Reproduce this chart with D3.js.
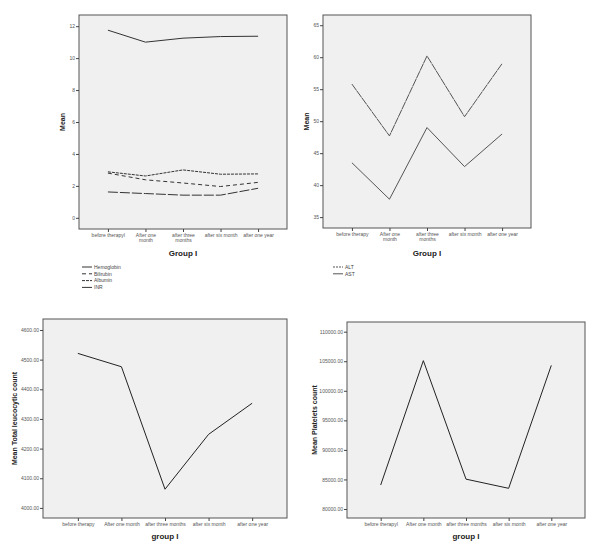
<!DOCTYPE html>
<html>
<head>
<meta charset="utf-8">
<script src="https://cdn.jsdelivr.net/npm/d3@7"></script>
<style>
  body { margin: 0; background: #fff; }
  svg { display: block; font-family: "Liberation Sans", Arial, sans-serif; }
  .axis path { display: none; }
  .axis line { stroke: #444; }
  .axis text { fill: #555; font-size: 5px; }
  .title { font-weight: bold; fill: #222; }
</style>
</head>
<body>
<svg id="chart" width="600" height="555"></svg>
<script>
// categories
const groupA = ['before therapyI', 'After one\nmonth', 'after three\nmonths', 'after six month', 'after one year'];
const groupB = ['before therapy', 'After one\nmonth', 'after three\nmonths', 'after six month', 'after one year'];
const groupC = ['before therapy', 'After one month', 'after three months', 'after six month', 'after one year'];
const groupD = ['before therapyI', 'After one month', 'after three months', 'after six month', 'after one year'];

// series values
const hemoglobin = [11.75, 11.0, 11.25, 11.35, 11.37];
const bilirubin = [2.8, 2.38, 2.18, 1.96, 2.22];
const albumin = [2.88, 2.62, 3.0, 2.73, 2.75];
const inr = [1.62, 1.52, 1.42, 1.42, 1.85];
const alt = [55.8, 47.7, 60.2, 50.7, 59.0];
const ast = [43.5, 37.8, 49.0, 42.9, 48.0];
const leucocytes = [4521, 4476, 4063, 4248, 4353];
const platelets = [84060, 105100, 85050, 83500, 104300];

// tick labels
const labTicks = [0, 2, 4, 6, 8, 10, 12];
const enzymeTicks = [35, 40, 45, 50, 55, 60, 65];
const wbcTicks = [4000, 4100, 4200, 4300, 4400, 4500, 4600];
const plateletTicks = [80000, 85000, 90000, 95000, 100000, 105000, 110000];

const svg = d3.select('#chart');

function drawPanel(opt) {
  const g = svg.append('g');
  const f = opt.frame;

  const x = d3.scalePoint().domain(opt.categories).range([f.left, f.right]).padding(opt.padding);
  const y = d3.scaleLinear().domain(opt.yDomain).range([f.bottom, f.top]);

  g.append('rect')
    .attr('x', f.left)
    .attr('y', f.top)
    .attr('width', f.right - f.left)
    .attr('height', f.bottom - f.top)
    .attr('fill', '#f0f0f0')
    .attr('stroke', '#555')
    .attr('stroke-width', 1);

  g.append('g')
    .attr('class', 'axis')
    .attr('transform', `translate(${f.left}, 0)`)
    .call(d3.axisLeft(y).tickValues(opt.ticks).tickSize(3).tickPadding(1).tickFormat(opt.tickFormat));

  const xAxis = g.append('g')
    .attr('class', 'axis')
    .attr('transform', `translate(0, ${f.bottom})`)
    .call(d3.axisBottom(x).tickSize(3).tickPadding(1));

  // split two-line category labels
  xAxis.selectAll('text').each(function (d) {
    const t = d3.select(this);
    t.text(null);
    d.split('\n').forEach((part, i) => {
      t.append('tspan').attr('x', 0).attr('dy', i === 0 ? '0.71em' : '1.05em').text(part);
    });
  });

  const line = d3.line()
    .x((d, i) => x(opt.categories[i]))
    .y((d) => y(d));

  opt.series.forEach((s) => {
    g.append('path')
      .datum(s.values)
      .attr('fill', 'none')
      .attr('stroke', s.color || '#333')
      .attr('stroke-width', 1)
      .attr('stroke-dasharray', s.dash || null)
      .attr('d', line);
  });

  g.append('text')
    .attr('class', 'title')
    .attr('x', (f.left + f.right) / 2)
    .attr('y', opt.xTitleY)
    .attr('text-anchor', 'middle')
    .attr('font-size', 8)
    .text(opt.xTitle);

  g.append('text')
    .attr('class', 'title')
    .attr('transform', `translate(${opt.yTitleX}, ${(f.top + f.bottom) / 2}) rotate(-90)`)
    .attr('text-anchor', 'middle')
    .attr('font-size', 7)
    .text(opt.yTitle);

  if (opt.legend) {
    const lg = g.append('g').attr('transform', `translate(${opt.legend.x}, ${opt.legend.y})`);
    opt.series.forEach((s, i) => {
      const dash = 'legendDash' in s ? s.legendDash : s.dash;
      lg.append('line')
        .attr('x1', 0)
        .attr('x2', 10)
        .attr('y1', i * 6.8)
        .attr('y2', i * 6.8)
        .attr('stroke', s.color || '#333')
        .attr('stroke-dasharray', dash || null);
      lg.append('text')
        .attr('x', 12)
        .attr('y', i * 6.8)
        .attr('dy', '0.35em')
        .attr('font-size', 5)
        .attr('fill', '#444')
        .text(s.name);
    });
  }
}

drawPanel({
  frame: { left: 79, right: 287, top: 15, bottom: 229 },
  categories: groupA,
  padding: 0.77,
  yDomain: [-0.7, 12.7],
  ticks: labTicks,
  tickFormat: d3.format('d'),
  series: [
    { name: 'Hemoglobin', values: hemoglobin },
    { name: 'Bilirubin', values: bilirubin, dash: '4,3' },
    { name: 'Albumin', values: albumin, dash: '3,1' },
    { name: 'INR', values: inr, dash: '10,2', legendDash: null }
  ],
  xTitle: 'Group I',
  xTitleY: 256,
  yTitle: 'Mean',
  yTitleX: 65,
  legend: { x: 82, y: 267 }
});

drawPanel({
  frame: { left: 323, right: 531, top: 15, bottom: 228 },
  categories: groupB,
  padding: 0.77,
  yDomain: [33.3, 66.6],
  ticks: enzymeTicks,
  tickFormat: d3.format('d'),
  series: [
    { name: 'ALT', values: alt, color: '#555', dash: '8,0.5', legendDash: '2,1' },
    { name: 'AST', values: ast, color: '#555' }
  ],
  xTitle: 'Group I',
  xTitleY: 256,
  yTitle: 'Mean',
  yTitleX: 309,
  legend: { x: 333, y: 267 }
});

drawPanel({
  frame: { left: 43, right: 287, top: 319, bottom: 518 },
  categories: groupC,
  padding: 0.8,
  yDomain: [3966, 4637],
  ticks: wbcTicks,
  tickFormat: d3.format('.2f'),
  series: [
    { name: 'Total leucocytic count', values: leucocytes, color: '#222' }
  ],
  xTitle: 'group I',
  xTitleY: 539,
  yTitle: 'Mean Total leucocytic count',
  yTitleX: 17
});

drawPanel({
  frame: { left: 347, right: 585, top: 322, bottom: 518 },
  categories: groupD,
  padding: 0.79,
  yDomain: [78477, 111640],
  ticks: plateletTicks,
  tickFormat: d3.format('.2f'),
  series: [
    { name: 'Platelets count', values: platelets, color: '#222' }
  ],
  xTitle: 'group I',
  xTitleY: 539,
  yTitle: 'Mean Platelets count',
  yTitleX: 317
});
</script>
</body>
</html>
